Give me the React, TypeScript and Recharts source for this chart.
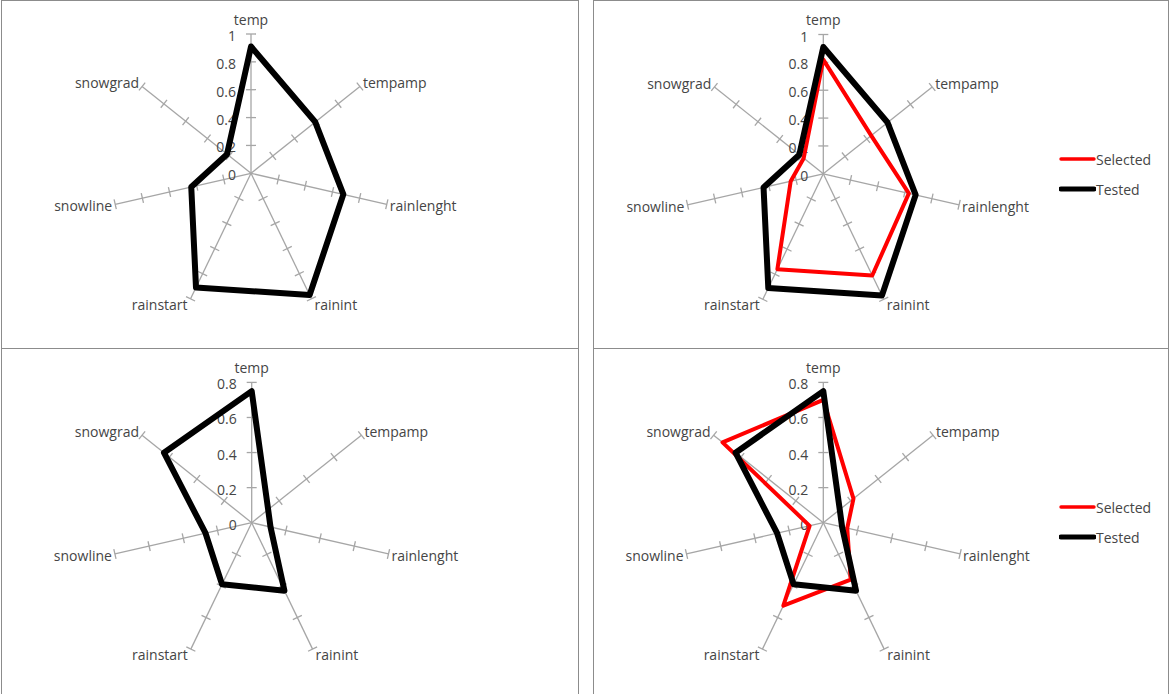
import React from 'react';
import { RadarChart, Radar, PolarAngleAxis, PolarRadiusAxis, Legend } from 'recharts';

// Parameter axes, clockwise from the top
const categories = ['temp', 'tempamp', 'rainlenght', 'rainint', 'rainstart', 'snowline', 'snowgrad'];

// Upper charts (scale 0..1)
const topTested = [0.91, 0.59, 0.68, 0.97, 0.91, 0.44, 0.22];
const topSelected = [0.82, 0.44, 0.63, 0.81, 0.76, 0.24, 0.18];
const topTicks = [0, 0.2, 0.4, 0.6, 0.8, 1];

// Lower charts (scale 0..0.8)
const bottomTested = [0.75, 0.12, 0.11, 0.43, 0.39, 0.27, 0.64];
const bottomSelected = [0.7, 0.22, 0.14, 0.36, 0.525, 0.08, 0.735];
const bottomTicks = [0, 0.2, 0.4, 0.6, 0.8];

const FONT = '"Open Sans", "Noto Sans", sans-serif';
const TEXT = '#454545';
const SPOKE = '#a6a6a6';
const RADIAN = Math.PI / 180;

const polar = (cx: number, cy: number, r: number, angle: number) => ({
  x: cx + Math.cos(-RADIAN * angle) * r,
  y: cy + Math.sin(-RADIAN * angle) * r,
});

type PanelProps = {
  left: number;
  top: number;
  width: number;
  height: number;
  cx: number;
  cy: number;
  radius: number;
  ticks: number[];
  tested: number[];
  selected?: number[];
};

const renderLegend = (props: any) => {
  const items = props.payload || [];
  return (
    <div style={{ fontFamily: FONT, fontSize: 14, color: TEXT }}>
      {items.map((entry: any) => {
        const sw = entry.payload?.strokeWidth ?? 4;
        return (
          <div key={entry.value} style={{ display: 'flex', alignItems: 'center', height: 30 }}>
            <svg width={37} height={10} style={{ display: 'block' }}>
              <line x1={2} x2={35} y1={5} y2={5} stroke={entry.color} strokeWidth={sw * 0.85} strokeLinecap="round" />
            </svg>
            <span style={{ lineHeight: '15px' }}>{entry.value}</span>
          </div>
        );
      })}
    </div>
  );
};

function Panel({ left, top, width, height, cx, cy, radius, ticks, tested, selected }: PanelProps) {
  const max = ticks[ticks.length - 1];
  const data = categories.map((axis, i) => ({
    axis,
    tested: tested[i],
    selected: selected ? selected[i] : undefined,
  }));

  // spoke, cross ticks and category label for every axis
  const spokeTick = (props: any) => {
    const angle = props.payload.coordinate as number;
    const end = polar(cx, cy, radius, angle);
    const nx = Math.cos(-RADIAN * (angle + 90));
    const ny = Math.sin(-RADIAN * (angle + 90));
    const cos = Math.cos(RADIAN * angle);
    const sin = Math.sin(RADIAN * angle);
    let lx = end.x;
    let ly = end.y;
    let anchor: 'start' | 'end' | 'middle' = 'middle';
    if (Math.abs(cos) < 0.1) {
      ly = sin > 0 ? end.y - 15 : end.y + 15;
    } else {
      anchor = cos > 0 ? 'start' : 'end';
      lx = end.x + (cos > 0 ? 3 : -3);
      ly = end.y - sin * 6;
    }
    return (
      <g>
        <line x1={cx} y1={cy} x2={end.x} y2={end.y} stroke={SPOKE} strokeWidth={1.3} />
        {ticks
          .filter((t) => t > 0)
          .map((t) => {
            const p = polar(cx, cy, (radius * t) / max, angle);
            return (
              <line
                key={t}
                x1={p.x - nx * 5}
                y1={p.y - ny * 5}
                x2={p.x + nx * 5}
                y2={p.y + ny * 5}
                stroke={SPOKE}
                strokeWidth={1.3}
              />
            );
          })}
        <text
          x={lx}
          y={ly}
          textAnchor={anchor}
          dominantBaseline="central"
          fontFamily={FONT}
          fontSize={14}
          fill={TEXT}
        >
          {props.payload.value}
        </text>
      </g>
    );
  };

  const valueTick = (props: any) => (
    <text
      x={props.x - 15}
      y={props.y + 1.5}
      textAnchor="end"
      dominantBaseline="central"
      fontFamily={FONT}
      fontSize={14}
      fill={TEXT}
    >
      {String(Number(Number(props.payload.value).toFixed(2)))}
    </text>
  );

  const common = {
    width,
    height,
    data,
    cx,
    cy,
    outerRadius: radius,
    margin: { top: 0, right: 0, bottom: 0, left: 0 },
  };

  const radiusAxisProps = {
    angle: 90,
    type: 'number' as const,
    domain: [0, max],
    allowDecimals: true,
    allowDataOverflow: true,
    tickCount: ticks.length,
    axisLine: false,
  };

  return (
    <div
      style={{
        position: 'absolute',
        left,
        top,
        width,
        height,
        boxSizing: 'border-box',
        border: '1px solid #8c8c8c',
      }}
    >
      {/* axes layer */}
      <div style={{ position: 'absolute', left: -1, top: -1 }}>
        <RadarChart {...common}>
          <PolarAngleAxis dataKey="axis" tick={spokeTick} tickLine={false} axisLine={false} />
          <PolarRadiusAxis {...radiusAxisProps} tick={valueTick} />
          <Radar dataKey="tested" stroke="none" fill="none" dot={false} isAnimationActive={false} legendType="none" />
        </RadarChart>
      </div>
      {/* series layer */}
      <div style={{ position: 'absolute', left: -1, top: -1 }}>
        <RadarChart {...common}>
          <PolarAngleAxis dataKey="axis" tick={false} tickLine={false} axisLine={false} />
          <PolarRadiusAxis {...radiusAxisProps} tick={false} />
          {selected && (
            <Radar
              name="Selected"
              dataKey="selected"
              stroke="#ff0000"
              strokeWidth={4}
              strokeLinejoin="round"
              fill="none"
              fillOpacity={0}
              dot={false}
              isAnimationActive={false}
            />
          )}
          <Radar
            name="Tested"
            dataKey="tested"
            stroke="#000000"
            strokeWidth={6}
            strokeLinejoin="round"
            fill="none"
            fillOpacity={0}
            dot={false}
            isAnimationActive={false}
          />
          {selected && (
            <Legend
              content={renderLegend}
              layout="vertical"
              wrapperStyle={{ left: 466, top: 144, width: 110 }}
            />
          )}
        </RadarChart>
      </div>
    </div>
  );
}

export default function App() {
  return (
    <div
      style={{
        position: 'absolute',
        left: 0,
        top: 0,
        width: 1170,
        height: 694,
        overflow: 'hidden',
        background: '#ffffff',
      }}
    >
      <Panel left={1} top={0} width={578} height={349} cx={250} cy={173.3} radius={139.3} ticks={topTicks} tested={topTested} />
      <Panel
        left={593}
        top={0}
        width={576}
        height={349}
        cx={230.3}
        cy={173.8}
        radius={139.3}
        ticks={topTicks}
        tested={topTested}
        selected={topSelected}
      />
      <Panel left={1} top={348} width={578} height={350} cx={250.7} cy={174.7} radius={140.3} ticks={bottomTicks} tested={bottomTested} />
      <Panel
        left={593}
        top={348}
        width={576}
        height={350}
        cx={230.3}
        cy={174.7}
        radius={140.3}
        ticks={bottomTicks}
        tested={bottomTested}
        selected={bottomSelected}
      />
    </div>
  );
}
